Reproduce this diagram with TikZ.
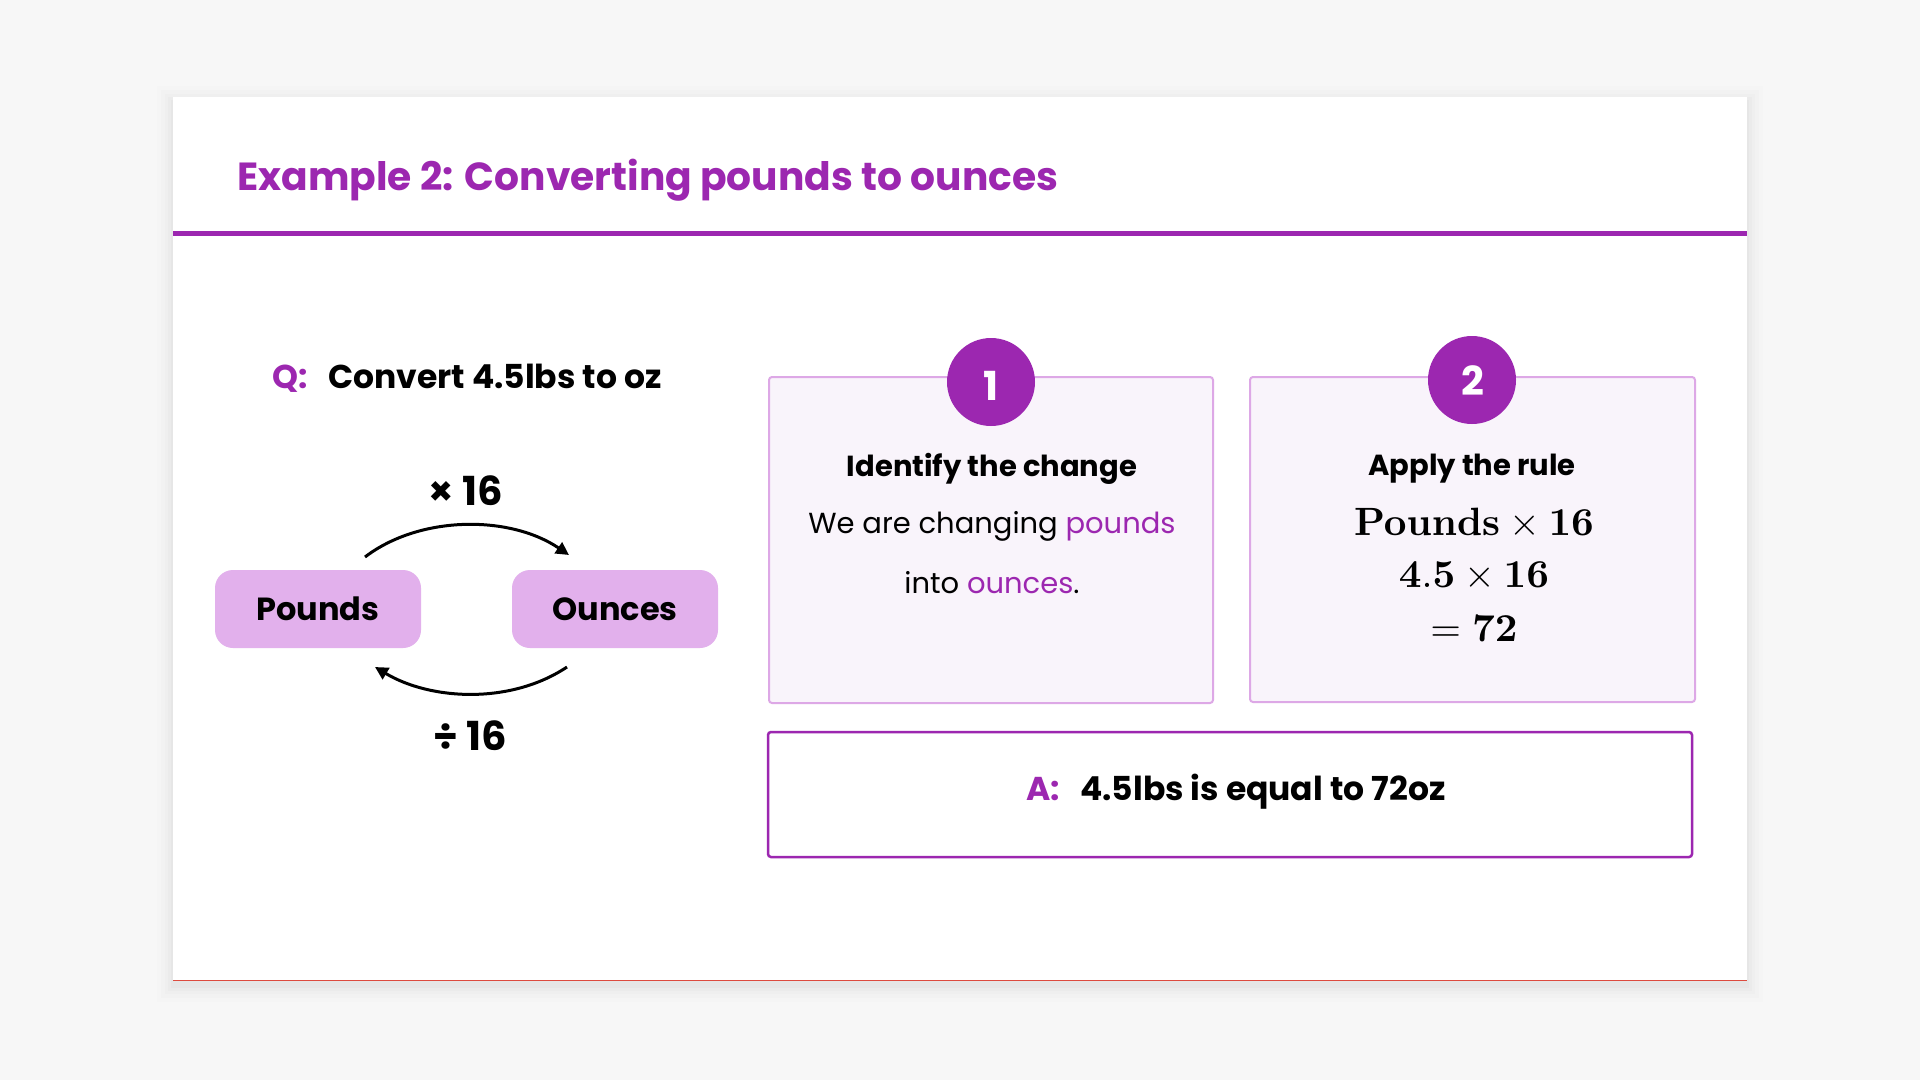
\documentclass[tikz,border=0pt]{standalone}
\usepackage[no-math]{fontspec}
\setmainfont{Poppins}
\usetikzlibrary{arrows.meta,calc}
\definecolor{bgc}{HTML}{F7F7F7}
\definecolor{purp}{HTML}{9C27B0}
\definecolor{lightpurp}{HTML}{E2B0EC}
\definecolor{stepborder}{HTML}{DDA8E6}
\definecolor{stepfill}{HTML}{F9F4FB}
\definecolor{redline}{HTML}{DD4B3F}
\newcommand{\bigmath}[1]{\scalebox{3.95}{$#1$}}
\tikzset{
  convbox/.style={fill=lightpurp, rounded corners=18pt, minimum width=206pt, minimum height=78pt, inner sep=0pt,
    font=\bfseries\fontsize{32}{36}\selectfont},
  stepbox/.style={draw=stepborder, fill=stepfill, line width=2pt, rounded corners=3pt, inner sep=0pt},
  numcirc/.style={circle, fill=purp, minimum size=88pt, inner sep=0pt},
  numtxt/.style={inner sep=0pt, text=white, font=\bfseries\fontsize{40}{42}\selectfont},
  ansbox/.style={draw=purp, fill=white, line width=2.5pt, rounded corners=3pt, inner sep=0pt},
  conv/.style={line width=3pt, -{Triangle[length=13pt,width=13pt]}},
  lbl/.style={inner sep=0pt, anchor=base},
  txt/.style={inner sep=0pt},
}
\begin{document}
\begin{tikzpicture}[x=1pt,y=-1pt]
\useasboundingbox (0,0) rectangle (1920,1080);
\fill[bgc] (0,0) rectangle (1920,1080);
% card shadow
\foreach \i/\o in {16/0.008,12/0.010,8/0.012,5/0.015,2/0.02}{
  \fill[black,opacity=\o] (173-\i,97-\i+5) rectangle (1747+\i,981+\i+5);
}
\fill[white] (173,97) rectangle (1747,981);
\draw[redline, line width=1.5pt] (173,980.3) -- (1747,980.3);
% title
\node[txt, anchor=base west, text=purp, font=\bfseries\fontsize{39.2}{44}\selectfont] (title) at (237,190) {Example 2: Converting pounds to ounces};
\fill[purp] (173,231) rectangle (1747,236);

% question
\node[txt, anchor=base west, text=purp, font=\bfseries\fontsize{33}{36}\selectfont] (q) at (272,388) {Q:};
\node[txt, anchor=base west, font=\bfseries\fontsize{33}{36}\selectfont] (qtext) at (328,388) {Convert 4.5lbs to oz};

% conversion diagram
\node[convbox] (pounds) at (318,609) {Pounds};
\node[convbox] (ounces) at (615,609) {Ounces};
\coordinate (a1s) at (365,557);
\coordinate (a1e) at (569,555);
\coordinate (a2s) at (567,667);
\coordinate (a2e) at (375,667);
\draw[conv] (a1s) .. controls (420,515) and (510,515) .. (a1e);
\draw[conv] (a2s) .. controls (510,705) and (430,700) .. (a2e);
\node[lbl, font=\bfseries\fontsize{40}{44}\selectfont] (mul) at (466,505) {× 16};
\node[lbl, font=\bfseries\fontsize{40}{44}\selectfont] (div) at (470,750) {÷ 16};

% step 1
\node[stepbox, minimum width=444pt, minimum height=326pt] (s1) at (991,540) {};
\node[numcirc] (c1) at (991,382) {};
\node[numtxt] (n1) at (991,386) {1};
\node[lbl, font=\bfseries\fontsize{29}{32}\selectfont] (s1h) at (992,476) {Identify the change};
\node[lbl, font=\fontsize{29}{32}\selectfont] (s1l1) at (992,533) {We are changing \textcolor{purp}{pounds}};
\node[lbl, font=\fontsize{29}{32}\selectfont] (s1l2) at (992,593) {into \textcolor{purp}{ounces}.};

% step 2
\node[stepbox, minimum width=445pt, minimum height=325pt] (s2) at (1472.5,539.5) {};
\node[numcirc] (c2) at (1472,380) {};
\node[numtxt] (n2) at (1473,381) {2};
\node[lbl, font=\bfseries\fontsize{29}{32}\selectfont] (s2h) at (1472,475) {Apply the rule};
\node[lbl] (m1) at (1474,535) {\bigmath{\mathbf{Pounds}\times\mathbf{16}}};
\node[lbl] (m2) at (1474,587) {\bigmath{\mathbf{4.5}\times\mathbf{16}}};
\node[lbl] (m3) at (1474,641) {\bigmath{=\mathbf{72}}};

% answer
\node[ansbox, minimum width=924pt, minimum height=125pt] (ans) at (1230,794.5) {};
\node[txt, anchor=base west, text=purp, font=\bfseries\fontsize{33}{36}\selectfont] (a) at (1026,800) {A:};
\node[txt, anchor=base west, font=\bfseries\fontsize{33}{36}\selectfont] (atext) at (1080,800) {4.5lbs is equal to 72oz};
\end{tikzpicture}
\end{document}
